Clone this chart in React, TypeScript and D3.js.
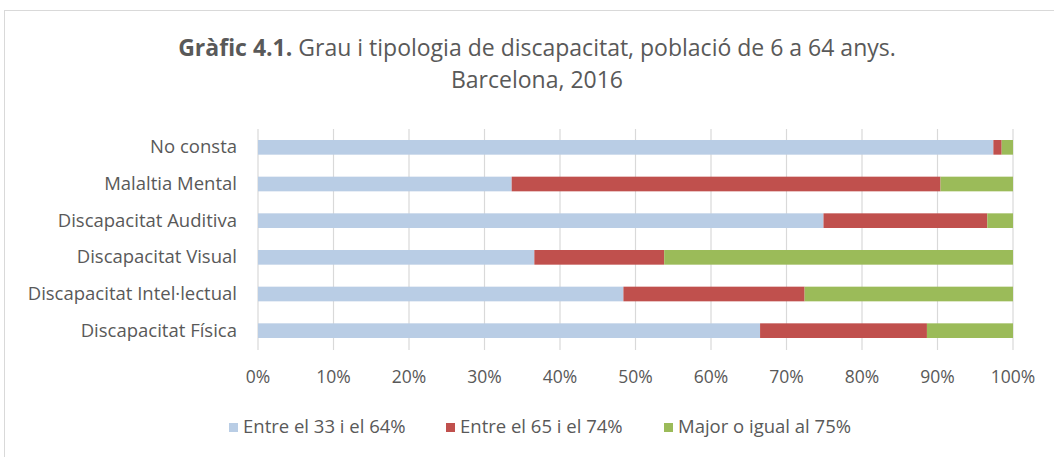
import React from 'react';
import * as d3 from 'd3';

// categories top to bottom
const categories = [
  'No consta',
  'Malaltia Mental',
  'Discapacitat Auditiva',
  'Discapacitat Visual',
  'Discapacitat Intel·lectual',
  'Discapacitat Física',
];
const seriesNames = ['Entre el 33 i el 64%', 'Entre el 65 i el 74%', 'Major o igual al 75%'];
const grau33_64 = [97.4, 33.6, 74.9, 36.6, 48.4, 66.5];
const grau65_74 = [1.1, 56.8, 21.7, 17.2, 24.0, 22.1];
const grau75 = [1.5, 9.6, 3.4, 46.2, 27.6, 11.4];
const tickValues = [0, 10, 20, 30, 40, 50, 60, 70, 80, 90, 100];
const colors = ['#b9cde5', '#c0504d', '#9bbb59'];

const W = 1054;
const H = 457;
const FONT = '"Open Sans", "Noto Sans", sans-serif';
const TEXT = '#595959';

const App = () => {
  const rows = categories.map((c, i) => ({
    cat: c,
    a: grau33_64[i],
    b: grau65_74[i],
    c: grau75[i],
  }));
  const stack = d3.stack<any>().keys(['a', 'b', 'c']);
  const series = stack(rows);

  const x = d3.scaleLinear().domain([0, 100]).range([258, 1013]);
  const y = d3
    .scaleBand()
    .domain(categories)
    .range([129, 349])
    .paddingInner(0.6)
    .paddingOuter(0.3);

  const legendX = [229, 446, 664];

  return (
    <svg width={W} height={H} style={{ position: 'absolute', left: 0, top: 0 }}>
      <rect x={0} y={0} width={W} height={H} fill="#fff" />
      <rect x={4.5} y={10.5} width={W + 10} height={H + 10} fill="none" stroke="#d9d9d9" />

      <text x={537} y={56} textAnchor="middle" fontFamily={FONT} fontSize={23} fill={TEXT}>
        <tspan fontWeight="bold">Gràfic 4.1.</tspan> Grau i tipologia de discapacitat, població de 6 a 64 anys.
      </text>
      <text x={537} y={88} textAnchor="middle" fontFamily={FONT} fontSize={23} fill={TEXT}>
        Barcelona, 2016
      </text>

      {/* gridlines */}
      {tickValues.map(t => (
        <line key={t} x1={x(t)} x2={x(t)} y1={129} y2={350} stroke="#d9d9d9" strokeWidth={1.2} />
      ))}

      {series.map((s, si) => (
        <g key={si} fill={colors[si]}>
          {s.map((d, i) => (
            <rect
              key={i}
              x={x(d[0])}
              y={y(categories[i])}
              width={x(d[1]) - x(d[0])}
              height={y.bandwidth()}
            />
          ))}
        </g>
      ))}

      {categories.map(c => (
        <text
          key={c}
          x={237}
          y={(y(c) as number) + y.bandwidth() / 2 + 6}
          textAnchor="end"
          fontFamily={FONT}
          fontSize={18.5}
          fill={TEXT}
        >
          {c}
        </text>
      ))}

      {tickValues.map(t => (
        <text
          key={t}
          x={x(t)}
          y={383}
          textAnchor="middle"
          fontFamily={FONT}
          fontSize={17.5}
          fill={TEXT}
        >
          {t}%
        </text>
      ))}

      {seriesNames.map((n, i) => (
        <g key={n}>
          <rect x={legendX[i]} y={423} width={9} height={9} fill={colors[i]} />
          <text x={legendX[i] + 14} y={433} fontFamily={FONT} fontSize={18.5} fill={TEXT}>
            {n}
          </text>
        </g>
      ))}
    </svg>
  );
};

export default App;
